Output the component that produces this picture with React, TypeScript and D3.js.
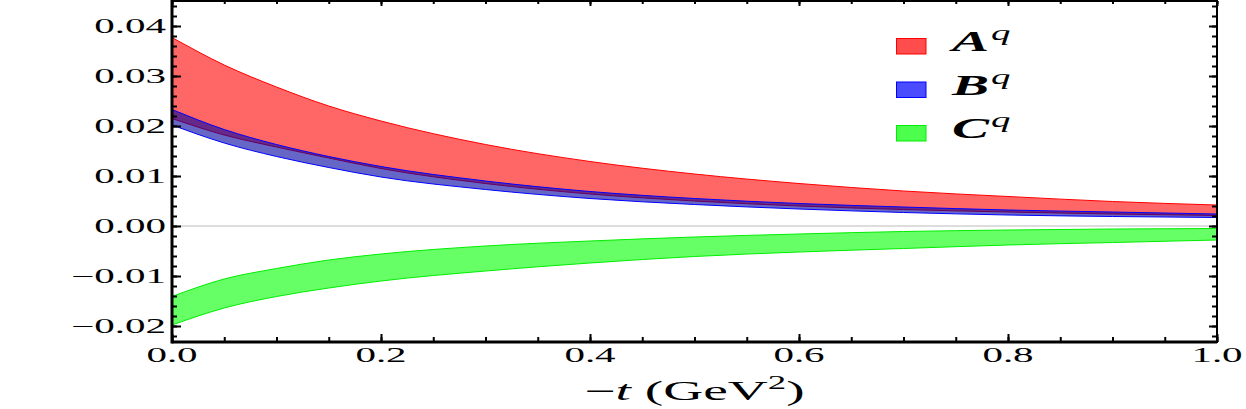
import React, { useEffect, useRef } from "react";
import * as d3 from "d3";

// -t (GeV^2) sample points and band edges
const tValues = [0, 0.05, 0.1, 0.15, 0.2, 0.3, 0.4, 0.5, 0.6, 0.7, 0.8, 0.9, 1.0];
const aUpper = [0.0377, 0.0322, 0.0278, 0.024, 0.021, 0.0163, 0.0129, 0.0104, 0.0085, 0.007, 0.0059, 0.0049, 0.0042];
const aLower = [0.0215, 0.0182, 0.0158, 0.0136, 0.0115, 0.0085, 0.0064, 0.005, 0.004, 0.0033, 0.0028, 0.0024, 0.0021];
const bUpper = [0.0233, 0.0193, 0.0163, 0.0139, 0.0119, 0.009, 0.0069, 0.0055, 0.0045, 0.0038, 0.0032, 0.0028, 0.0024];
const bLower = [0.0202, 0.0166, 0.0139, 0.0117, 0.0098, 0.0073, 0.0055, 0.0043, 0.0034, 0.0027, 0.0022, 0.0019, 0.0017];
const cUpper = [-0.0141, -0.0106, -0.0085, -0.0068, -0.0056, -0.004, -0.003, -0.0022, -0.0016, -0.0011, -0.0008, -0.0006, -0.0005];
const cLower = [-0.0198, -0.0164, -0.0141, -0.0124, -0.011, -0.009, -0.0074, -0.0061, -0.0052, -0.0045, -0.0038, -0.0033, -0.0028];

const yTickValues = [-0.02, -0.01, 0, 0.01, 0.02, 0.03, 0.04];
const yTickLabels = ["\u22120.02", "\u22120.01", "0.00", "0.01", "0.02", "0.03", "0.04"];
const xTickValues = [0, 0.2, 0.4, 0.6, 0.8, 1.0];
const xTickLabels = ["0.0", "0.2", "0.4", "0.6", "0.8", "1.0"];

const legendNames = ["A", "B", "C"];

const series = [
  { upper: aUpper, lower: aLower, fill: "rgba(255,0,0,0.6)", stroke: "#ff0000" },
  { upper: bUpper, lower: bLower, fill: "rgba(0,0,160,0.6)", stroke: "#0000ff" },
  { upper: cUpper, lower: cLower, fill: "rgba(0,255,0,0.6)", stroke: "#00ee00" },
];
const legendFill = ["rgba(255,0,0,0.7)", "rgba(0,0,255,0.7)", "rgba(0,255,0,0.7)"];

const W = 1246,
  H = 409;
const plot = { left: 172, right: 1217, top: 1, bottom: 342 };
const font = "'Liberation Serif', 'DejaVu Serif', serif";
const stretch = 2.05;

export default function App(): JSX.Element {
  const ref = useRef<SVGSVGElement>(null);

  useEffect(() => {
    if (!ref.current) return;
    const svg = d3.select(ref.current);
    svg.selectAll("*").remove();

    const x = d3.scaleLinear().domain([0, 1]).range([plot.left, plot.right]);
    const y = d3.scaleLinear().domain([-0.0232, 0.045]).range([plot.bottom, plot.top]);

    // zero line
    svg
      .append("line")
      .attr("x1", plot.left)
      .attr("x2", plot.right)
      .attr("y1", y(0))
      .attr("y2", y(0))
      .attr("stroke", "#bbbbbb")
      .attr("stroke-width", 1);

    const area = d3
      .area<number>()
      .x((d, i) => x(tValues[i]))
      .curve(d3.curveMonotoneX);
    const line = d3
      .line<number>()
      .x((d, i) => x(tValues[i]))
      .y((d) => y(d))
      .curve(d3.curveMonotoneX);

    series.forEach((s) => {
      svg
        .append("path")
        .attr(
          "d",
          area.y0((d, i) => y(s.lower[i])).y1((d, i) => y(s.upper[i]))(tValues)
        )
        .attr("fill", s.fill)
        .attr("stroke", "none");
      [s.upper, s.lower].forEach((edge) => {
        svg
          .append("path")
          .attr("d", line(edge))
          .attr("fill", "none")
          .attr("stroke", s.stroke)
          .attr("stroke-width", 1);
      });
    });

    // frame
    svg
      .append("rect")
      .attr("x", plot.left)
      .attr("y", plot.top)
      .attr("width", plot.right - plot.left)
      .attr("height", plot.bottom - plot.top)
      .attr("fill", "none")
      .attr("stroke", "#000")
      .attr("stroke-width", 2);
    svg
      .append("line")
      .attr("x1", plot.left)
      .attr("x2", plot.left)
      .attr("y1", 0)
      .attr("y2", plot.bottom + 1.5)
      .attr("stroke", "#000")
      .attr("stroke-width", 3);
    svg
      .append("line")
      .attr("x1", plot.left)
      .attr("x2", plot.right)
      .attr("y1", plot.bottom)
      .attr("y2", plot.bottom)
      .attr("stroke", "#000")
      .attr("stroke-width", 3);

    // ticks
    const yMinor = d3.range(-11, 23).map((i) => i * 0.002);
    const xMinor = d3.range(0, 21).map((i) => i * 0.05);
    const tickAxis = (axis: any, tx: number, ty: number) => {
      svg
        .append("g")
        .attr("transform", `translate(${tx},${ty})`)
        .call(axis.tickFormat(() => "").tickSizeOuter(0))
        .call((g: any) => g.select(".domain").remove())
        .call((g: any) => g.selectAll("line").attr("stroke", "#000").attr("stroke-width", 2));
    };
    tickAxis(d3.axisRight(y).tickValues(yMinor).tickSize(5), plot.left, 0);
    tickAxis(d3.axisRight(y).tickValues(yTickValues).tickSize(9), plot.left, 0);
    tickAxis(d3.axisLeft(y).tickValues(yMinor).tickSize(5), plot.right, 0);
    tickAxis(d3.axisLeft(y).tickValues(yTickValues).tickSize(8), plot.right, 0);
    tickAxis(d3.axisTop(x).tickValues(xMinor).tickSize(5), 0, plot.bottom);
    tickAxis(d3.axisTop(x).tickValues(xTickValues).tickSize(8), 0, plot.bottom);
    tickAxis(d3.axisBottom(x).tickValues(xMinor).tickSize(3), 0, plot.top);
    tickAxis(d3.axisBottom(x).tickValues(xTickValues).tickSize(5), 0, plot.top);

    // stretched text helper
    const label = (tx: number, ty: number, anchor: string, size: number, sx = stretch) =>
      svg
        .append("g")
        .attr("transform", `translate(${tx},${ty}) scale(${sx},1)`)
        .append("text")
        .attr("text-anchor", anchor)
        .attr("font-family", font)
        .attr("font-size", size)
        .attr("fill", "#000");

    yTickValues.forEach((v, i) => {
      label(166, y(v) + 7, "end", 20).text(yTickLabels[i]);
    });
    xTickValues.forEach((v, i) => {
      label(x(v), 362, "middle", 20).text(xTickLabels[i]);
    });

    // axis title
    const title = label((plot.left + plot.right) / 2, 400, "middle", 27);
    title.append("tspan").text("\u2212");
    title.append("tspan").attr("font-style", "italic").text("t");
    title.append("tspan").text(" (GeV");
    title.append("tspan").attr("font-size", 18).attr("dy", -11).text("2");
    title.append("tspan").attr("dy", 11).text(")");

    // legend
    legendNames.forEach((name, i) => {
      const top = 38.5 + i * 43.5;
      svg
        .append("rect")
        .attr("x", 896.5)
        .attr("y", top)
        .attr("width", 29.5)
        .attr("height", 15.5)
        .attr("fill", legendFill[i])
        .attr("stroke", series[i].stroke)
        .attr("stroke-width", 1);
      const t = label(952, top + 12.5, "start", 30, 1.85).attr("font-style", "italic");
      t.append("tspan").attr("font-weight", "bold").text(name);
      t.append("tspan").attr("font-size", 21).attr("dy", -11).attr("dx", 1).text("q");
    });
  }, []);

  return (
    <svg
      ref={ref}
      width={W}
      height={H}
      style={{ position: "absolute", left: 0, top: 0, background: "#fff" }}
    ></svg>
  );
}
